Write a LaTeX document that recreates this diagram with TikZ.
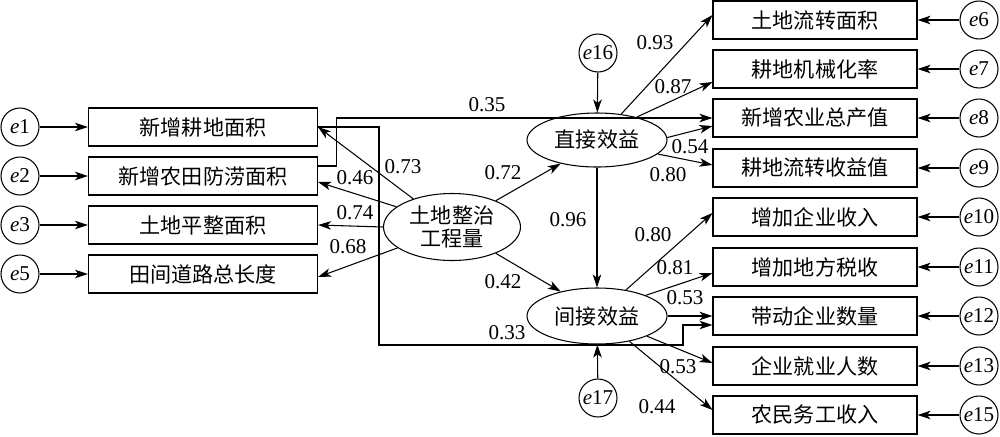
\documentclass[tikz,border=0pt]{standalone}
\usepackage{fontspec}
\setmainfont{Liberation Serif}
\newfontfamily\cjk{Noto Sans CJK SC}
\usetikzlibrary{arrows.meta,shapes.geometric}

\tikzset{
  box/.style = {draw, minimum height=7.6mm, inner sep=0pt, font=\cjk\fontsize{12}{14}\selectfont},
  lbox/.style = {box, minimum width=45.8mm},
  rbox/.style = {box, minimum width=40.8mm},
  err/.style = {draw, circle, minimum size=7.6mm, inner sep=0pt, font=\fontsize{12}{14}\selectfont},
  latent/.style = {draw, ellipse, inner sep=0pt, align=center, font=\cjk\fontsize{12}{13}\selectfont},
  arr/.style = {-{Stealth[length=2.6mm,width=1.7mm,inset=0.7mm]}},
  coef/.style = {inner sep=1pt, font=\fontsize{12}{14}\selectfont}
}

\begin{document}
\begin{tikzpicture}[x=0.2mm, y=-0.2mm, line width=0.6pt]
        \useasboundingbox (0,0) rectangle (1000,436);

        % measured variables, left
        \foreach \n/\y/\t in {1/127/新增耕地面积, 2/176/新增农田防涝面积, 3/225/土地平整面积, 5/274/田间道路总长度} {
          \node[lbox] (l\n) at (203,\y) {\t};
          \node[err] (e\n) at (20,\y) {\textit{e}\n};
          \draw[arr] (e\n) -- (l\n);
        }

        % measured variables, right
        \foreach \n/\y/\t in {6/20/土地流转面积, 7/69/耕地机械化率, 8/118/新增农业总产值, 9/168/耕地流转收益值,
                              10/217/增加企业收入, 11/267/增加地方税收, 12/316/带动企业数量, 13/366/企业就业人数, 15/415/农民务工收入} {
          \node[rbox] (r\n) at (815,\y) {\t};
          \node[err] (e\n) at (979,\y) {\textit{e}\n};
          \draw[arr] (e\n) -- (r\n);
        }

        % latent variables
        \node[latent, minimum width=27.4mm, minimum height=13.4mm] (proj) at (452,227) {土地整治\\工程量};
        \node[latent, minimum width=28mm, minimum height=10.8mm] (dir) at (597,140) {直接效益};
        \node[latent, minimum width=28mm, minimum height=11.2mm] (ind) at (597,316) {间接效益};
        \node[err] (e16) at (598,53) {\textit{e}16};
        \node[err] (e17) at (598,398) {\textit{e}17};

        \draw[arr] (e16) -- (dir);
        \draw[arr] (e17) -- (ind);
        \draw[arr] (dir) -- (ind) node[coef] at (568,220) {0.96};
        \draw[arr] (proj.31) -- (dir.213) node[coef] at (503,173) {0.72};
        \draw[arr] (proj.329) -- (ind.146) node[coef] at (503,282) {0.42};

        \foreach \a/\b/\s/\lx/\ly/\v in {144/l1/0mm/403/167/0.73, 160/l2/-1.2mm/355/178/0.46,
                                         180/l3/0mm/355/213/0.74, 201/l5/-0.6mm/348/247/0.68} {
          \draw[arr] (proj.\a) -- ([yshift=\s]\b.east) node[coef] at (\lx,\ly) {\v};
        }

        \foreach \a/\b/\s/\lx/\ly/\v in {47/r6/1mm/655/43/0.93, 30/r7/-2.6mm/673/87/0.87,
                                         2/r8/-1.6mm/690/147/0.54, 347/r9/0.6mm/668/175/0.80} {
          \draw[arr] (dir.\a) -- ([yshift=\s]\b.west) node[coef] at (\lx,\ly) {\v};
        }

        \foreach \a/\b/\s/\lx/\ly/\v in {42/r10/0.8mm/653/235/0.80, 23/r11/-1.2mm/675/268/0.81, 0/r12/0mm/685/298/0.53,
                                         338/r13/0.6mm/678/367/0.53, 322/r15/1mm/657/407/0.44} {
          \draw[arr] (ind.\a) -- ([yshift=\s]\b.west) node[coef] at (\lx,\ly) {\v};
        }

        % cross paths
        \draw[arr] ([yshift=2mm]l2.east) -- ++(18,0) |- (r8.west) node[coef] at (487,105) {0.35};
        \coordinate (bend) at (683,345);
        \draw[arr] (l1.east) -| (379,345) -- (bend) |- ([yshift=-1.8mm]r12.west) node[coef] at (507,333) {0.33};
\end{tikzpicture}
\end{document}
